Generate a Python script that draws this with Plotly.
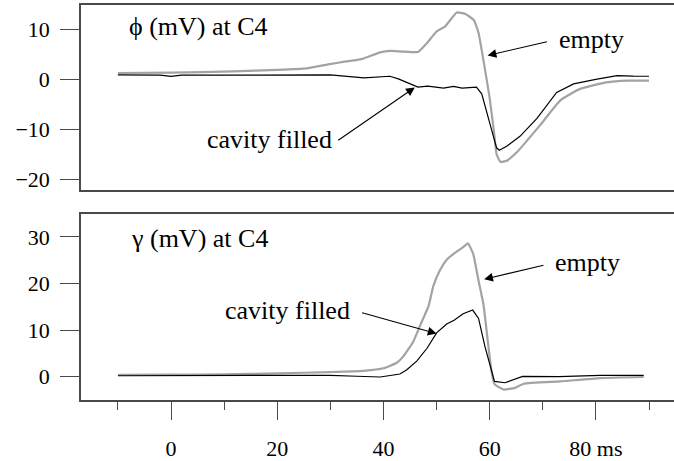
import plotly.graph_objects as go

# phi (mV) at C4 — empty cavity
t_phi_empty = [-10, 0, 11.7, 20, 25.5, 29.9, 32.4, 35.6, 39.4, 41.2, 46.5, 48.2, 50.0, 51.6,
               53.8, 55.4, 57.0, 57.9, 59.0, 60.0, 60.8, 61.3, 62.0, 63.2, 65.1, 67.0, 69.5,
               73.3, 77.0, 82.0, 86.0, 90.0]
v_phi_empty = [1.28, 1.35, 1.6, 1.9, 2.2, 3.06, 3.5, 4.0, 5.4, 5.7, 5.5, 7.3, 9.6, 10.6,
               13.4, 13.1, 11.9, 9.3, 2.7, -3.8, -10.4, -15.0, -16.5, -16.3, -14.6, -12.3, -9.15,
               -4.2, -1.9, -0.6, -0.25, -0.23]

# phi (mV) at C4 — cavity filled
t_phi_filled = [-10, -2, 0, 2, 30, 36.3, 41.2, 42.8, 46.5, 48.3, 49.5, 51.3, 53.2, 54.8, 57.5,
                58.5, 60.1, 61.3, 61.8, 63.2, 65.7, 68.9, 72.6, 75.8, 80.2, 84.0, 87.0, 90.0]
v_phi_filled = [0.89, 0.85, 0.6, 0.85, 0.89, 0.3, 0.63, 0.1, -1.55, -1.35, -1.5, -1.75, -1.4,
                -1.75, -1.55, -2.9, -9.1, -13.7, -14.2, -13.4, -11.4, -7.8, -2.6, -0.9, 0.06,
                0.75, 0.65, 0.63]

# gamma (mV) at C4 — empty cavity
t_gam_empty = [-10, 0, 10, 20, 29.9, 36.2, 40.0, 42.5, 43.7, 45.6, 46.9, 48.5, 49.4, 50.7,
               51.9, 53.5, 55.0, 55.9, 56.9, 57.9, 58.8, 59.6, 60.3, 60.9, 62.6, 64.8, 66.4,
               73.3, 80.8, 89.0]
v_gam_empty = [0.42, 0.45, 0.5, 0.7, 1.0, 1.27, 1.8, 3.0, 4.3, 7.5, 11.0, 15.2, 19.5, 23.0,
               25.1, 26.6, 27.8, 28.6, 26.3, 20.6, 15.7, 8.0, 1.5, -1.6, -2.75, -2.4, -1.5,
               -1.0, -0.3, -0.07]

# gamma (mV) at C4 — cavity filled
t_gam_filled = [-10, 0, 10, 20, 30, 35, 39.4, 43.1, 44.4, 46.3, 48.2, 50.0, 51.9, 53.3, 55.0,
                56.8, 57.9, 59.1, 60.4, 60.9, 62.9, 64.8, 66.2, 73.0, 80.8, 89.0]
v_gam_filled = [0.2, 0.2, 0.25, 0.35, 0.3, 0.1, -0.07, 0.57, 1.5, 3.4, 6.1, 9.4, 11.3, 12.1,
                13.5, 14.3, 12.5, 6.5, 0.8, -1.0, -1.3, -0.6, 0.05, 0.0, 0.3, 0.3]

x_major = [0, 20, 40, 60, 80]
x_major_text = ["0", "20", "40", "60", "80 ms"]
phi_ticks = [-20, -10, 0, 10]
phi_text = ["\u221220", "\u221210", "0", "10"]
gam_ticks = [0, 10, 20, 30]
gam_text = ["0", "10", "20", "30"]

GRAY = "#a3a3a3"
FRAME = "#4a4a4a"
FONT = "'Liberation Serif', 'Times New Roman', Times, serif"

fig = go.Figure()
fig.add_trace(go.Scatter(x=t_phi_empty, y=v_phi_empty, mode="lines",
                         line=dict(color=GRAY, width=2.2, shape="spline", smoothing=0.4),
                         xaxis="x", yaxis="y"))
fig.add_trace(go.Scatter(x=t_phi_filled, y=v_phi_filled, mode="lines",
                         line=dict(color="black", width=1.2), xaxis="x", yaxis="y"))
fig.add_trace(go.Scatter(x=t_gam_empty, y=v_gam_empty, mode="lines",
                         line=dict(color=GRAY, width=2.2, shape="spline", smoothing=0.4),
                         xaxis="x2", yaxis="y2"))
fig.add_trace(go.Scatter(x=t_gam_filled, y=v_gam_filled, mode="lines",
                         line=dict(color="black", width=1.2), xaxis="x2", yaxis="y2"))

x_range = [-16.95, 94.7]
axis_common = dict(showgrid=False, zeroline=False, showline=True,
                   linecolor=FRAME, linewidth=1.6)

fig.update_layout(
    width=674, height=461,
    margin=dict(l=81, r=0, t=5, b=55),
    paper_bgcolor="white", plot_bgcolor="white",
    showlegend=False,
    font=dict(family=FONT, size=22, color="black"),
    xaxis=dict(domain=[0, 1], range=x_range, anchor="y", mirror=True,
               showticklabels=False, ticks="", matches="x2", **axis_common),
    yaxis=dict(domain=[0.531, 1], range=[-22.2, 14.9], anchor="x",
               tickvals=phi_ticks, ticktext=phi_text, ticks="outside",
               ticklen=19, tickwidth=1.4, tickcolor=FRAME, ticklabelstandoff=6,
               **axis_common),
    xaxis2=dict(domain=[0, 1], range=x_range, anchor="y2", mirror=True,
                tickvals=x_major, ticktext=x_major_text, ticks="outside",
                ticklen=18, tickwidth=1.4, tickcolor=FRAME, ticklabelstandoff=10,
                minor=dict(tick0=-10, dtick=20, ticks="outside", ticklen=8,
                           tickwidth=1.4, tickcolor=FRAME),
                **axis_common),
    yaxis2=dict(domain=[0, 0.472], range=[-5, 35], anchor="x2",
                tickvals=gam_ticks, ticktext=gam_text, ticks="outside",
                ticklen=19, tickwidth=1.4, tickcolor=FRAME, ticklabelstandoff=6,
                **axis_common),
)

LABEL = dict(family=FONT, size=26, color="black")

# panel titles and curve labels
texts = [
    ("x", "y", -8.35, 10.6, "\u03d5 (mV) at C4", "left"),
    ("x", "y", 72.6, 7.95, "empty", "left"),
    ("x", "y", 30.6, -12.1, "cavity filled", "right"),
    ("x2", "y2", -8.0, 29.7, "\u03b3 (mV) at C4", "left"),
    ("x2", "y2", 71.9, 24.4, "empty", "left"),
    ("x2", "y2", 34.0, 14.2, "cavity filled", "right"),
]
for xr, yr, x, y, txt, anchor in texts:
    fig.add_annotation(xref=xr, yref=yr, x=x, y=y, text=txt, showarrow=False,
                       xanchor=anchor, yanchor="middle", font=LABEL)

# pointer arrows: (tail) -> (head)
arrows = [
    ("x", "y", 71.05, 7.6, 59.6, 4.8),
    ("x", "y", 31.2, -12.4, 45.9, -1.6),
    ("x2", "y2", 70.4, 24.0, 58.95, 20.9),
    ("x2", "y2", 35.7, 13.8, 50.0, 9.25),
]
for xr, yr, x0, y0, x1, y1 in arrows:
    fig.add_annotation(xref=xr, yref=yr, axref=xr, ayref=yr, x=x1, y=y1, ax=x0, ay=y0,
                       text="", showarrow=True, arrowhead=2, arrowsize=1.6,
                       arrowwidth=1.1, arrowcolor="black")

fig.write_html("out.html")
